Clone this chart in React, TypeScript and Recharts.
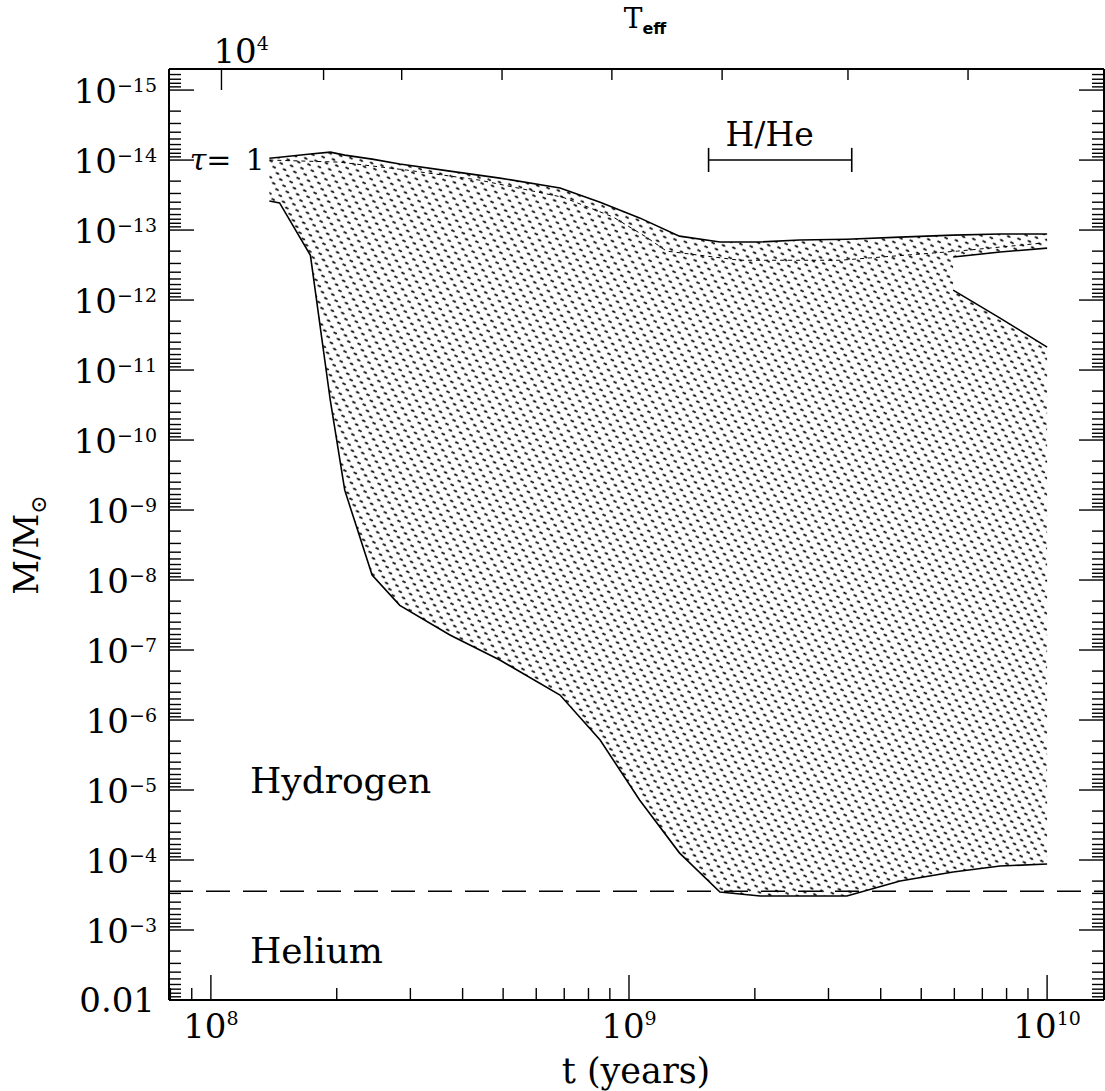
import React from "react";
import {
  ComposedChart,
  Area,
  Line,
  XAxis,
  YAxis,
  ReferenceLine,
  ReferenceDot,
} from "recharts";

// ages (years) where both edges of the shaded region were read
const tYears = [
  1.38e8, 1.46e8, 1.73e8, 1.93e8, 2.09e8, 2.43e8, 2.83e8, 3.73e8, 4.91e8,
  6.84e8, 8.53e8, 1.06e9, 1.32e9, 1.65e9, 2.06e9, 2.56e9, 3.32e9, 4.45e9,
  5.96e9, 7.72e9, 1.0e10,
];
// upper (small M) edge of the region
const upperEdge = [
  9.4e-15, 9.1e-15, 8.2e-15, 7.7e-15, 8.5e-15, 9.7e-15, 1.14e-14, 1.44e-14,
  1.81e-14, 2.5e-14, 4.0e-14, 6.7e-14, 1.22e-13, 1.48e-13, 1.48e-13, 1.39e-13,
  1.35e-13, 1.26e-13, 1.18e-13, 1.14e-13, 1.14e-13,
];
// lower (large M) edge of the region
const lowerEdge = [
  3.85e-14, 4.1e-14, 2.3e-13, 2.7e-11, 5.2e-10, 8.5e-9, 2.3e-8, 6.1e-8,
  1.39e-7, 4.4e-7, 1.93e-6, 1.39e-5, 7.9e-5, 2.86e-4, 3.27e-4, 3.27e-4,
  3.27e-4, 2.0e-4, 1.48e-4, 1.22e-4, 1.14e-4,
];
// the white wedge at late times
const notchT = [5.96e9, 7.72e9, 1.0e10];
const notchUpper = [2.43e-13, 2.06e-13, 1.81e-13];
const notchLower = [7.2e-13, 1.81e-12, 4.7e-12];

// dashed curve inside the region
const dashT = [
  1.38e8, 2.03e8, 2.94e8, 4.4e8, 6.95e8, 9.16e8, 1.1e9, 1.23e9, 1.84e9, 3.2e9,
  6.1e9, 9.8e9,
];
const dashM = [
  1.0e-14, 1.07e-14, 1.39e-14, 1.94e-14, 3.4e-14, 6.5e-14, 1.26e-13, 2.0e-13,
  2.7e-13, 2.7e-13, 2.0e-13, 1.53e-13,
];

const hHeBoundary = 2.8e-4; // H / He transition (dashed)
const hHeRangeT = [1.55e9, 3.41e9];
const hHeRangeM = 1.0e-14;
const hHeCapM = [6.7e-15, 1.48e-14];

// top axis (T_eff) tick positions in age
const teffTickT = [1.06e8, 1.86e8, 2.86e8, 4.97e8, 9.1e8, 1.67e9, 3.34e9, 6.47e9];
const teffTickLabel = ["4", "", "", "", "", "", "", ""];

const xDecades = [7, 8, 9, 10];
const yDecades = [-16, -15, -14, -13, -12, -11, -10, -9, -8, -7, -6, -5, -4, -3, -2];
const minorMult = [1, 2, 3, 4, 5, 6, 7, 8, 9];

const X_DOMAIN = [7.94e7, 1.368e10];
const Y_DOMAIN = [5.0e-16, 1.0e-2];

const logTicks = (decades: number[], lo: number, hi: number) =>
  decades
    .flatMap((d) => minorMult.map((m) => m * Math.pow(10, d)))
    .filter((v) => v >= lo * 1.0001 && v <= hi * 1.0001);

const xTicks = logTicks(xDecades, X_DOMAIN[0], X_DOMAIN[1]);
const yTicks = logTicks(yDecades, Y_DOMAIN[0], Y_DOMAIN[1]);

const mainRows = tYears
  .map((t, i) => ({ t, band: [upperEdge[i], lowerEdge[i]] }))
  .filter((r) => r.t <= notchT[0]);
const thinRows = notchT.map((t, k) => ({
  t,
  band: [upperEdge[tYears.indexOf(t)], notchUpper[k]],
}));
const thickRows = notchT.map((t, k) => ({
  t,
  band: [notchLower[k], lowerEdge[tYears.indexOf(t)]],
}));
const dashRows = dashT.map((t, i) => ({ t, m: dashM[i] }));

const FONT = "'DejaVu Serif', serif";
const MINUS = "\u2212";

const isMajor = (v: number) => {
  const l = Math.log10(v);
  return Math.abs(l - Math.round(l)) < 1e-6;
};

const LeftTick = (props: any) => {
  const { x, y, payload } = props;
  const v = payload.value;
  const major = isMajor(v);
  const e = Math.round(Math.log10(v));
  return (
    <g>
      <line x1={x} x2={x + (major ? 25 : 12)} y1={y} y2={y} stroke="#000" strokeWidth={1.4} />
      {major &&
        (e === -2 ? (
          <text x={x - 14} y={y + 12} textAnchor="end" fontSize={34} fontFamily={FONT}>
            0.01
          </text>
        ) : (
          <text x={x - 12} y={y + 13} textAnchor="end" fontSize={34} fontFamily={FONT}>
            <tspan>10</tspan>
            <tspan dy={-11} fontSize={19}>
              {MINUS + String(-e)}
            </tspan>
          </text>
        ))}
    </g>
  );
};

const RightTick = (props: any) => {
  const { x, y, payload } = props;
  const major = isMajor(payload.value);
  return <line x1={x} x2={x - (major ? 25 : 12)} y1={y} y2={y} stroke="#000" strokeWidth={1.4} />;
};

const BottomTick = (props: any) => {
  const { x, y, payload } = props;
  const v = payload.value;
  const major = isMajor(v);
  const e = Math.round(Math.log10(v));
  return (
    <g>
      <line x1={x} x2={x} y1={y} y2={y - (major ? 25 : 12)} stroke="#000" strokeWidth={1.4} />
      {major && (
        <text x={x} y={y + 38} textAnchor="middle" fontSize={34} fontFamily={FONT}>
          <tspan>10</tspan>
          <tspan dy={-13} fontSize={19}>
            {String(e)}
          </tspan>
        </text>
      )}
    </g>
  );
};

const TopTick = (props: any) => {
  const { x, y, index } = props;
  const label = teffTickLabel[index];
  return (
    <g>
      <line x1={x} x2={x} y1={y} y2={y + (label ? 21 : 11)} stroke="#000" strokeWidth={1.4} />
      {label && (
        <text x={x - 8} y={y - 6} textAnchor="start" fontSize={34} fontFamily={FONT}>
          <tspan>10</tspan>
          <tspan dy={-13} fontSize={19}>
            {label}
          </tspan>
        </text>
      )}
    </g>
  );
};

const textShape = (content: React.ReactNode, anchor: string, size: number) => (p: any) =>
  (
    <text x={p.cx} y={p.cy} textAnchor={anchor} fontSize={size} fontFamily={FONT} fill="#000">
      {content}
    </text>
  );

export default function App() {
  return (
    <div style={{ position: "absolute", left: 0, top: 0, background: "#fff" }}>
      <ComposedChart
        width={1105}
        height={1091}
        margin={{ top: 0, right: 0, bottom: 0, left: 0 }}
      >
        <defs>
          <pattern
            id="dots"
            width="8"
            height="7"
            patternUnits="userSpaceOnUse"
            patternTransform="rotate(-28)"
          >
            <rect width="8" height="7" fill="#fff" />
            <path d="M3 2.5 l1.2 1.8" stroke="#000" strokeWidth={1.7} strokeLinecap="round" />
          </pattern>
        </defs>
        <XAxis
          dataKey="t"
          type="number"
          scale="log"
          domain={X_DOMAIN}
          allowDataOverflow
          ticks={xTicks}
          interval={0}
          height={91}
          tickSize={0}
          tickMargin={0}
          tickLine={false}
          axisLine={{ stroke: "#000", strokeWidth: 2 }}
          tick={<BottomTick />}
          label={{
            content: () => (
              <text x={636} y={1083} textAnchor="middle" fontSize={35} fontFamily={FONT}>
                t (years)
              </text>
            ),
          }}
        />
        <XAxis
          xAxisId="top"
          orientation="top"
          dataKey="t"
          type="number"
          scale="log"
          domain={X_DOMAIN}
          allowDataOverflow
          ticks={teffTickT}
          interval={0}
          height={69}
          tickSize={0}
          tickMargin={0}
          tickLine={false}
          axisLine={{ stroke: "#000", strokeWidth: 2 }}
          tick={<TopTick />}
          label={{
            content: () => (
              <text x={645} y={28} textAnchor="middle" fontSize={28} fontFamily={FONT}>
                <tspan>T</tspan>
                <tspan dy={6} fontSize={16} fontFamily="'DejaVu Sans', sans-serif" fontWeight="bold">
                  eff
                </tspan>
              </text>
            ),
          }}
        />
        <YAxis
          type="number"
          scale="log"
          domain={Y_DOMAIN}
          allowDataOverflow
          reversed
          ticks={yTicks}
          interval={0}
          width={169}
          tickSize={0}
          tickMargin={0}
          tickLine={false}
          axisLine={{ stroke: "#000", strokeWidth: 2 }}
          tick={<LeftTick />}
          label={{
            content: () => (
              <text
                x={38}
                y={545}
                transform="rotate(-90 38 545)"
                textAnchor="middle"
                fontSize={34}
                fontFamily={FONT}
              >
                <tspan>M/M</tspan>
                <tspan dy={8} fontSize={22}>
                  {"\u2299"}
                </tspan>
              </text>
            ),
          }}
        />
        <YAxis
          yAxisId="r"
          orientation="right"
          type="number"
          scale="log"
          domain={Y_DOMAIN}
          allowDataOverflow
          reversed
          ticks={yTicks}
          interval={0}
          width={1}
          tickSize={0}
          tickMargin={0}
          tickLine={false}
          axisLine={{ stroke: "#000", strokeWidth: 2 }}
          tick={<RightTick />}
        />

        <Area
          data={mainRows}
          dataKey="band"
          type="linear"
          fill="url(#dots)"
          fillOpacity={1}
          stroke="#000"
          strokeWidth={1.6}
          isAnimationActive={false}
        />
        <Area
          data={thinRows}
          dataKey="band"
          type="linear"
          fill="url(#dots)"
          fillOpacity={1}
          stroke="#000"
          strokeWidth={1.6}
          isAnimationActive={false}
        />
        <Area
          data={thickRows}
          dataKey="band"
          type="linear"
          fill="url(#dots)"
          fillOpacity={1}
          stroke="#000"
          strokeWidth={1.6}
          isAnimationActive={false}
        />
        <Line
          data={dashRows}
          dataKey="m"
          type="linear"
          stroke="#000"
          strokeWidth={1}
          strokeDasharray="4 4"
          dot={false}
          isAnimationActive={false}
        />

        <ReferenceLine y={hHeBoundary} stroke="#000" strokeWidth={1.5} strokeDasharray="24 13" />
        <ReferenceLine
          segment={[
            { x: hHeRangeT[0], y: hHeRangeM },
            { x: hHeRangeT[1], y: hHeRangeM },
          ]}
          stroke="#000"
          strokeWidth={1.6}
        />
        {hHeRangeT.map((t) => (
          <ReferenceLine
            key={t}
            segment={[
              { x: t, y: hHeCapM[0] },
              { x: t, y: hHeCapM[1] },
            ]}
            stroke="#000"
            strokeWidth={1.6}
          />
        ))}

        <ReferenceDot x={2.17e9} y={6.3e-15} r={1} shape={textShape("H/He", "middle", 33)} />
        <ReferenceDot
          x={8.9e7}
          y={1.38e-14}
          r={1}
          shape={textShape(
            <>
              <tspan fontStyle="italic">τ</tspan>
              <tspan>=</tspan>
              <tspan dx={14}>1</tspan>
            </>,
            "start",
            30
          )}
        />
        <ReferenceDot x={1.24e8} y={1.1e-5} r={1} shape={textShape("Hydrogen", "start", 36)} />
        <ReferenceDot x={1.24e8} y={2.95e-3} r={1} shape={textShape("Helium", "start", 36)} />
      </ComposedChart>
    </div>
  );
}
